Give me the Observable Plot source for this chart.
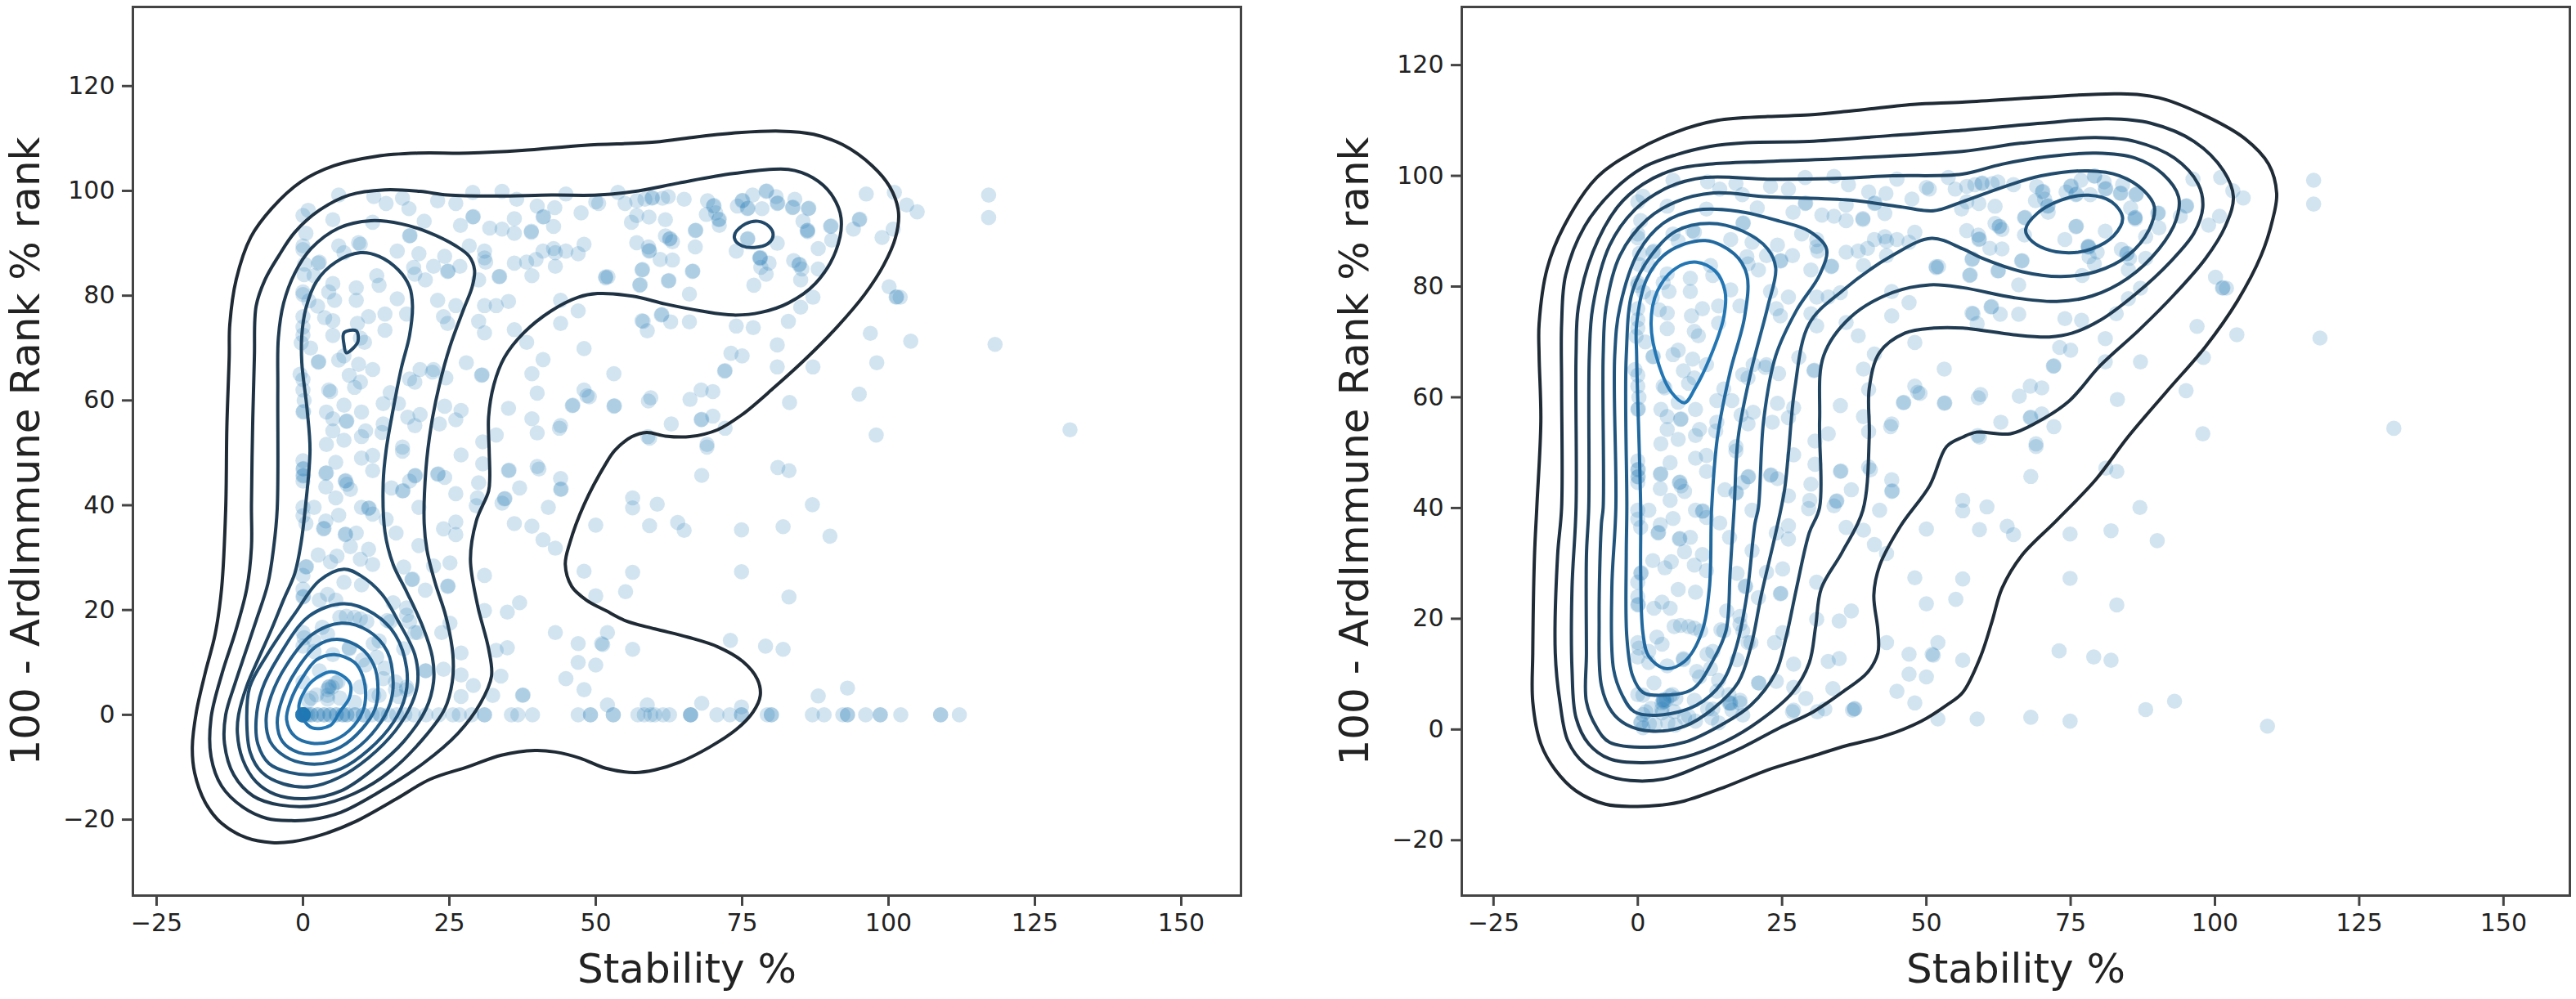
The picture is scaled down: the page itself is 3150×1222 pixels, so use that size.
<!DOCTYPE html>
<html>
<head>
<meta charset="utf-8">
<script src="https://cdn.jsdelivr.net/npm/d3@7"></script>
<script src="https://cdn.jsdelivr.net/npm/@observablehq/plot@0.6"></script>
<style>
html,body{margin:0;padding:0;background:#fff;}
#chart{display:flex;width:3150px;height:1222px;overflow:hidden;}
#chart svg{display:block;flex:none;}
</style>
</head>
<body>
<div id="chart"></div>
<script>
const xLabel = "Stability %";
const yLabel = "100 - ArdImmune Rank % rank";
const xTicks = [-25,0,25,50,75,100,125,150];
const yTicks = [-20,0,20,40,60,80,100,120];

// scattered points, shared by both panels: [stability, 100 - rank]
const upperPoints = [[6.1,99.2],[12.1,98.9],[14.2,97.6],[17,98.6],[18.1,96.6],[23,98.1],[26.1,97.6],[29,99.7],[34,99.9],[36.5,98.4],[40,97.1],[44.9,99.4],[43,96.8],[50,97.9],[47.5,95.8],[41,95],[41.1,95.1],[42.8,93.2],[39,92.1],[39,92.3],[36.1,94.7],[36.1,91.9],[34,92.7],[31.9,92.9],[29,95],[29.1,95.1],[26.9,93.4],[20.7,94.2],[18.2,91.4],[18.3,91.5],[5.1,94.5],[.9,96.3],[0,95.3],[.5,91.9],[0,89.5],[0,88.8],[2.8,86.4],[2.6,86.2],[1.9,83.8],[0,80.7],[0,80.2],[.2,84],[.3,86],[9.5,90.1],[9.8,89.8],[6.1,89.5],[7,88.2],[11.9,94],[16.1,88.5],[19.8,88],[18.9,85.4],[19.1,84.1],[20.9,83],[22.3,85.6],[24.2,87.5],[24.7,84.6],[24.8,84.7],[26.8,85.6],[28.4,89.5],[31,88.5],[31,87.2],[31.2,86.4],[30,83],[33.5,83.6],[33.6,83.7],[36.1,86.2],[38.2,86.4],[39.8,86.9],[41,88.5],[42.8,89],[43.1,88.2],[44.9,88.5],[47,88],[48,89.8],[43.1,85.6],[39.1,83.8],[51.7,83.6],
[5.4,79.1],[5.1,82.3],[4.4,80.7],[9.1,81.5],[9.1,79.1],[12.6,83.8],[13,82],[16.1,79.4],[23,79.1],[26.1,78.1],[31,78.1],[33,78.1],[35.1,78.9],[44,79.1],[47,77.1],[44,74.7],[30,75.1],[31,72.9],[36.1,73.5],[38.2,71.1],[48,69.9],[41,67.8],[39.1,65.1],[40,61.4],[48,62],[48.9,60.7],[46.1,59.1],[35.1,58.5],[39.1,56.5],[40,53.8],[44,55.2],[33,53.4],[30.7,52.1],
[14,76.5],[14,73.4],[11.2,76],[9.3,74.7],[5.1,75.2],[3.7,75.8],[5.1,72.4],[9.8,71.9],[10.5,71.1],[17.7,76.5],[24,76],[24.7,74.7],[6.1,67.7],[7,68.5],[2.6,67.3],[2.7,67.4],[11.9,65.9],[9.5,66.9],[7.9,64.8],[9.8,63.5],[8.8,62.5],[4.4,62],[4.7,61.7],[27.9,67.2],[30.5,64.8],[30.6,64.9],[20,65.9],[22.3,65.9],[22.1,65.4],[24.4,64.3],[19.1,63.5],[18.2,64.1],[14.9,61.5],[13.7,59.4],[16.3,59.4],[17.9,56.8],[20,57.3],[19.1,55.2],[24.2,58.9],[27,58.1],[26.1,56.3],[23.3,55.5],[10,57.8],[7,59.1],[4,57.8],[0,57.8],[.1,57.9],[5.1,56.5],[7.4,56],[7.5,56.1],[5.1,54.2],[10.7,54.2],[10,53.1],[13.7,55.5],[13.5,53.9],[7,52.4],[4,51.6],[17,51.1],[0,76],[0,74],[0,72.5],[-.3,71],[-.5,65],[0,64],[0,62],[.2,60],[1,79],[1.3,70],[2.5,78]];

const lowerPoints = [[17,50.3],[27,49.6],[10,49],[11.9,49.5],[5.6,48.2],[3.9,46.1],[4,46.2],[0,48.5],[0,46.9],[.1,47],[0,45.6],[.1,45.7],[0,44.6],[7.2,44.6],[7.3,44.7],[7.5,44],[3.9,43.5],[8.1,43],[5.6,41.4],[11.9,46.6],[19.1,45.6],[19.2,45.7],[18.2,44.6],[17,42.7],[17.1,42.8],[15.1,43.3],[23,45.9],[23.1,46],[24.2,45.3],[26.1,42.2],[19.8,39.6],[30,44.3],[29.8,41.4],[29.6,39.9],[30.7,47.9],[35.1,46.6],[35.2,46.7],[40,47.4],[37,43.3],[34.4,41.2],[34.5,41.3],[34,40.4],[44,45.1],[44,43],[44.1,43.1],[41.9,39.6],[36.1,36.5],[39.1,36],[41,33.4],[43.1,31.8],[50,36.2],[48,27.4],[50,22.7],[43.1,15.7],[47,13.6],[51.2,13.4],[47,10],[50,9.5],[44.9,6.9],[48,4.8],[31,26.6],[31,19.9],[34.9,19.6],[37,21.4],[33,12.3],[34.9,12.8],[27,11.8],[24,8.7],[33.8,7.4],[27,7.6],[29.1,5.6],[27,3.5],[32.4,3.7],[37.5,3.7],[37.6,3.8],[24,35.5],[26.1,36.8],[26.1,34.4],[19.8,32.3],[25.1,29],[22.3,28.4],[24.7,24.5],[24.8,24.6],[20.9,23.8],[18.6,25.8],[18.7,25.9],[17.2,28.2],[15.9,34.7],[14.2,37.3],[11.2,39.4],[11.3,39.5],[10,39.6],[11.9,38.3],[6.1,38.1],[3.5,35.5],[3.6,35.6],[3.9,37],[7.2,34.4],[7.3,34.5],[9.1,34.7],[8.1,32.1],[11.2,31.6],[11.9,28.7],[9.8,29.7],[5.8,30.3],[2.6,30.5],[4.7,29.2],[.5,28.2],[.6,28.3],[0,39.6],[0,38],[.5,36.5],[1.9,39.6],[0,26.6],[0,24],[0,22.5],[.1,22.6],[7,25.3],[4.2,23],[2.8,21.9],[5.6,21.9],[10,24.8],[15.4,21.4],[17.7,20.4],[25.1,17.5],[23.7,15.7],[19.1,15.7],[14.9,17.8],[17.2,12.6],[20.9,8.4],[7.4,18.8],[9.8,18.3],[3.3,16.7],[0,15.7],[0,13.1],[1.9,12.1],[5.1,11.5],[7.9,12.6],[10.2,10.5],[12,13.6],[2.8,8.4],[14,8.9],[15.8,6.3],[17.7,5.3],[4.4,5.3],[4.5,5.4],[5.6,6.1],[4.2,3.7],[0,6.3],[1.4,3.2],[9.8,5.3],[13,3.7],[16.3,3.5],[4.2,4.8],[5,5.3],[6,6.3],[6.3,18.6],[8.8,18.6],[10.9,17.8],[14.4,18],[17.7,19],[18.2,17.8],[19.6,15.7],[13,14.1],[7.9,12.8],[4.2,15.4],[1.9,14.1],[.2,14.7],[21,8.4],[12.6,11],[10.7,9.5],[13.7,6.9],[15.8,4.8],[12.1,3.7],[2.3,3.8],[.9,2.7],[4.2,3],[6.3,3.2],[8.8,2.4],[17.7,4.8]];

const rightPoints = [[50.5,97.6],[53.8,99.7],[55,97.6],[57,98.1],[58.4,98.4],[59.6,98.6],[59.7,98.7],[61.4,98.6],[62.4,98.9],[65.1,98.4],[69.1,98.1],[70.1,97.1],[70.2,97.2],[70.5,95.8],[71,94.5],[71.1,94.6],[71.1,93.4],[68.9,95.5],[56.1,94],[57,95.3],[59.1,95],[61.9,94.5],[67,92.4],[67.1,92.5],[61.9,91.4],[62.6,90.8],[62.7,90.9],[57,90.1],[59,89.3],[59.1,88.5],[59.2,88.6],[63.1,90.3],[67,89.3],[61,86.9],[63.1,86.8],[57.9,84.9],[58,85],[57.5,82],[57.6,82.1],[52.1,83.6],[62.4,82.8],[62.5,82.9],[66.5,84.6],[66.6,84.7],[66,80.3],[57.9,75.2],[58.8,73.3],[61.2,76.3],[61.3,76.4],[62.8,75],[66,75],[74,74.2],[76.9,73.9],[82.9,75.1],[85,77.8],[87.1,79.7],[81,70.6],[73.1,69],[75,68.5],[72,65.6],[72.1,65.7],[81,66.4],[87.1,66.4],[98,67.2],[96.9,72.8],[103.8,71.3],[100.1,81.7],[101.3,79.7],[101.4,79.8],[102,79.7],[98.9,91.1],[100.8,92.7],[96.2,99.4],[101,99.7],[103.1,97.3],[104.9,96],[95,94.5],[95.1,94.6],[94,92.7],[90.1,93.2],[90.2,93.3],[90.3,90.6],[88,89],[86.1,92.4],[86.2,92.5],[86.2,92.2],[85.4,94.2],[86.3,96.6],[86.4,96.7],[83.6,96.8],[83.7,96.9],[84,98.4],[81,97.6],[81.1,97.7],[80.8,98.9],[79.1,99.9],[79.2,100],[76.8,99.2],[75,98.1],[75.1,98.2],[74.2,97.1],[75.9,96.6],[76,96.7],[78.4,96.6],[75.9,90.8],[76,90.9],[81,90],[74,88.5],[78,87.2],[78.1,87.3],[78.1,87.1],[79.6,86.2],[78.2,85.4],[79.1,84.1],[77,82],[83.8,86.7],[84.7,85.9],[84.8,86],[85.2,85.1],[85,83],[88,85.1],[53.1,65.1],[53.1,58.9],[53.2,59],[59,59.9],[66.1,60.2],[68,62],[70,61.7],[62.9,55.5],[68,56.3],[68.1,56.4],[70,57],[72.1,54.7],[83.1,59.6],[95,61.2],[97.9,53.4],[58.9,53.1],[69,51.6],[117.1,99.2],[117.1,94.9],[118.2,70.7],[131,54.4],[69,51.1],[68.1,45.7],[81.1,47.2],[83,46.6],[87,40.1],[64,36.7],[65.1,35.2],[74.9,35.3],[82,35.9],[90,34.1],[60.5,40.2],[74.9,27.3],[83,22.5],[73,14.2],[79,13.1],[82,12.5],[88,3.6],[93,5.1],[68.1,2.2],[74.9,1.5],[56.3,39.5],[59.2,36.1],[56.3,27.2],[55.1,23.5],[52,15.7],[51,13.6],[56.3,12.5],[52,1.9],[58.8,1.9],[48.5,60.9],[46,59],[43.8,54.7],[40.3,46.9],[56.3,41.4],[59.4,60.5],[59.2,52.8],[58.1,75.1],[51.7,83.4]];

// the row on y = 0 in the first panel
const zeroRowX = [0,0,0,0,0,0,0,0,0,0,0,0,0,0,0,.4,.8,1.4,1.4,2.5,2.5,3.6,3.6,4.6,4.6,5.7,5.7,6.8,6.8,7.5,7.5,8.9,8.9,10.3,10.3,11.8,13.2,13.2,14.6,16,17.4,18.9,21,23.2,25.6,26.7,28.8,31,31,35.6,36.7,39.2,47,49.1,49.1,53,53,57.2,58.3,59.4,60.1,61.5,62.6,66.2,66.2,66.2,70.7,72.9,74.9,74.9,79.3,80,80,87,89,92.2,93,93,96.1,98.6,98.6,102.1,108.9,108.9,112.1];
// points only seen in the second panel
const secondExtras = [[109.1,.6],[.5,1.2],[.6,1.3],[.9,.3],[3,.9],[5.2,1.2],[8.1,2.1],[12.8,2.1],[16,4.7],[16.1,4.8],[18.2,2.6],[4.5,5],[4.6,5.1],[6.6,5.6],[.9,6.2],[26.8,3.2],[37.2,3.5],[31.1,3.2],[2,1],[6.5,.8],[10,1.5],[14,1.2]];

// contours of the first panel, outermost first: [stability, 100 - rank]
const a1 = [[-13.2,39.3],[-13,55],[-12.6,68.3],[-12.5,74.5],[-11.4,83.1],[-8.9,91.2],[-5.3,96.7],[-.4,101.7],[5.3,104.8],[12.5,106.6],[19.6,107.2],[28.2,107.2],[37.4,107.7],[48.1,108.7],[60.1,109.3],[67.2,110.3],[74.4,111.1],[81.5,111.4],[87.2,110.8],[92.2,108.8],[97.2,104.8],[100.2,100.8],[101.7,96],[101.2,91.1],[99.2,85.9],[95.9,80.2],[91.2,74],[86.1,68.2],[80.5,62.5],[75,57.3],[70.8,54.4],[66.1,53.1],[61.9,53.2],[58.7,53.9],[56.2,53.1],[53.3,50.5],[51.7,47.9],[48,40.1],[45.6,32.9],[44.8,28.7],[45.9,24.5],[48.4,21.9],[51.7,19.9],[55.2,17.9],[60.1,16.4],[65.8,14.8],[70.8,13],[75.1,10.2],[77.6,6.8],[78.1,3.7],[76.9,.6],[74,-2.8],[69.4,-6.2],[64.4,-9],[60.1,-10.5],[56.7,-11],[51.7,-10.2],[47.4,-8.3],[43.1,-7.1],[39.6,-6.8],[33.9,-7.7],[28.2,-9.9],[21.7,-12.3],[16,-16],[8.9,-20.4],[3.2,-22.9],[-1.8,-24.2],[-5.3,-24.4],[-9.6,-23.5],[-13.9,-20.7],[-16.7,-16.7],[-18.5,-11.1],[-18.9,-6.2],[-18.2,.6],[-16.7,8],[-15,15.4],[-13.9,24.1]];
const a2 = [[-8.8,40],[-8.6,55],[-8.3,68.3],[-8,78],[-6.5,83],[-4.2,87.5],[-1.4,92.1],[2.8,96.3],[7.9,99.2],[14,100.2],[20,99.9],[24.7,99.2],[33,99],[42.4,99.2],[50.3,99.2],[57.3,100],[64.2,101.5],[73.5,103.3],[82.9,104.1],[87.1,102.5],[90.2,99.4],[91.9,94.8],[91,88.5],[87.5,82.3],[82.9,78.6],[78.2,76.8],[73.5,76.3],[67.9,77.1],[61.9,78.4],[56.3,79.9],[50.3,80.4],[47,79.7],[42.4,77.1],[37.7,72.9],[34.4,68.2],[32.6,63],[31.7,56.8],[31.8,50.5],[31.9,45.3],[31.7,42.7],[29.6,37],[28.6,29.7],[29.8,21],[31.7,12.6],[32.2,7.4],[30.3,2.2],[26.5,-3.5],[20.5,-9.3],[12.6,-15],[6.5,-18.6],[1.5,-20],[-2,-20.2],[-6.1,-19.8],[-10.3,-17.6],[-13.9,-13.6],[-15.7,-8],[-15.7,-.6],[-13.8,8],[-11.5,16],[-9.6,24.1],[-8.8,32]];
const a3 = [[-4.4,39.3],[-4.3,62],[-4.2,72],[-3.3,78.6],[-1.4,84.3],[1.4,89],[6.1,92.9],[11.6,94.3],[16.8,93.7],[21.4,92.1],[26.1,89.5],[28.4,87.5],[29.3,84.9],[28.9,81.7],[27.5,77.6],[25.1,70.3],[23.3,63],[21.9,55.2],[21,46.9],[20.7,36.5],[21.2,31.3],[22.6,25.1],[24.4,18.8],[25.6,11.5],[25.5,6.3],[24.2,1.1],[20.5,-4.6],[14.9,-10.8],[8.8,-15],[2.3,-17.3],[-4,-17.2],[-8.5,-15.5],[-11.8,-11.5],[-13.4,-5.5],[-13.2,0],[-11.6,6],[-9.8,12],[-8,18],[-6,25],[-5,32]];
const a4 = [[.4,39.5],[1.2,50.5],[.7,58.3],[-.2,67.2],[-.2,72.4],[.5,77.6],[2.3,82.7],[5.6,86.4],[9.8,88.2],[13,87.5],[16.3,84.9],[18.2,81.7],[18.7,78.1],[18.2,72.4],[16.8,66.2],[15.4,58.3],[14.2,50.5],[13.7,44.3],[14,34.9],[15.4,28.7],[17.7,23.5],[20.5,16.7],[22.1,11],[22.3,6.3],[21,1.1],[17.2,-5.1],[12.1,-10.3],[6.5,-14.5],[.5,-16],[-4.7,-15.2],[-8,-12.8],[-10.3,-8.5],[-11.2,-3.5],[-11,0],[-9.6,5.5],[-7.5,11],[-5.5,16],[-3.3,22],[-1.4,27],[-.3,33]];
const a5 = [[7,27.8],[9.8,26.6],[13.5,23],[16.3,17.8],[19.1,11.5],[19.6,6.3],[18.6,2.2],[15.8,-3],[11.2,-8.2],[6.1,-12],[1.4,-13.7],[-3.3,-13.2],[-7,-11],[-9,-7.2],[-9.6,-.9],[-9.1,5.3],[-6.1,11.5],[-1.4,19.3],[2.8,25.6]];
const a6 = [[7,21.2],[12.1,19.3],[15.8,15.2],[17.7,8.9],[17.5,3.7],[15.4,-1.5],[11.2,-6.7],[6.5,-10.3],[1.9,-11.4],[-2.3,-11],[-5.8,-9.3],[-7.7,-5.6],[-8,-.9],[-7,4.8],[-4.2,11],[1,18.8]];
const a7 = [[6.5,17.5],[11.2,16],[14.4,12.1],[15.4,6.3],[14.9,2.2],[12.6,-2.5],[8.8,-6.7],[4.7,-9],[.5,-9.3],[-3,-8],[-5.6,-5.1],[-6.3,-.9],[-5.4,3.7],[-2.8,9.5],[1.4,15.2]];
const a8 = [[5.8,14.4],[9.8,12.8],[12.1,9.5],[12.8,5.3],[12.3,1.1],[10,-2.8],[6.5,-6.1],[2.8,-7.4],[-.7,-7.2],[-3.5,-5.1],[-4.4,-1.5],[-3.5,3.2],[-1.2,8.4],[2.3,13.1]];
const a9 = [[5.4,11.5],[8.8,10],[10.2,7.4],[10.7,3.7],[10.2,.6],[7.9,-3],[4.7,-5.1],[1.4,-5.4],[-1.4,-4.1],[-2.8,-.9],[-2.1,2.7],[-.2,6.9],[2.3,10.5]];
const a10 = [[4.9,8.2],[7.2,7.1],[8.1,5.8],[7.9,3.2],[6.3,.6],[4.7,-2],[1.6,-2.5],[-.2,-.4],[-.7,1.7],[.9,5.6],[2.8,7.4]];
const aPeakLeft = [[7,72.9],[9.1,73.3],[9.4,71.3],[8.6,70],[7.4,69.1],[7,70.7]];
const aPeakRight = [[73.8,91.9],[75.6,93.7],[77.7,94.2],[79.6,93.2],[80.3,91.6],[79.4,89.9],[77.1,89.2],[75,89.5],[73.8,90.6]];

// contours of the second panel, outermost first
const b1 = [[-17.5,40.1],[-16.8,55.8],[-17.1,67.5],[-17.1,73.3],[-15.7,83.3],[-12.8,90.9],[-7.1,99.7],[-.6,104.4],[6.6,107.9],[13.8,110],[22.5,110.7],[29.7,111],[36.9,111.7],[47.7,112.9],[56.2,113.3],[69.9,114.2],[83.5,114.8],[90.3,114.1],[98.4,110.8],[105.2,106.7],[109.3,102.1],[110.7,96.8],[110,92.1],[108,85.6],[103.9,77.4],[98.4,69.2],[91.6,61],[84.9,52.8],[79.4,45.2],[72.6,37.8],[66.5,31.4],[63.1,25.5],[61.4,19.6],[59.4,13.2],[56.3,6.7],[53.5,4.4],[49.1,1.5],[42.7,-1.2],[36.2,-2.9],[29.7,-5],[22.5,-7.3],[15.3,-10.3],[8.1,-12.9],[3.7,-13.7],[-.6,-13.9],[-5.6,-13.5],[-10.7,-11.1],[-14.3,-7.3],[-16.8,-2.6],[-18.2,5],[-18.2,13.8],[-17.9,31.4]];
const b2 = [[-13.2,40.1],[-13.2,61.6],[-13.2,73.3],[-12.5,82.1],[-9.2,90.9],[-4.2,97.4],[.9,101.5],[6.6,103.8],[12.4,105.3],[18.9,106],[29.7,106.2],[44.1,107.3],[56.2,108.2],[69.9,109.5],[81.5,110.3],[88.9,109.5],[96.4,106.2],[101.5,100.9],[103.2,96.2],[101.8,90.9],[98.4,85.1],[93,78.6],[86.9,72.2],[80.1,65.7],[74.7,59.3],[69.2,55.5],[64.5,53.4],[58.7,53.7],[56.3,52.8],[53.5,51.1],[50.6,44.1],[45.5,36.7],[41.9,29.6],[40.9,24.3],[41.6,17.9],[41.6,13.8],[39.8,10.3],[35.4,6.7],[30.4,3.2],[24.6,.3],[18.2,-3.2],[11.7,-6.2],[5.2,-8.8],[.1,-9.3],[-4.9,-8.5],[-9.2,-6.2],[-12.1,-2.1],[-13.5,5],[-14.3,13.8],[-13.9,31.4]];
const b3 = [[-10.7,40.1],[-10.7,67.5],[-10.3,76.3],[-7.8,86.2],[-3.5,94.4],[.9,98.5],[6.6,101.2],[12.4,102.1],[22.5,102.6],[36.9,103.2],[56.2,104.4],[66.5,105.9],[79.4,106.9],[86.2,106.2],[93,103.2],[97.1,98.5],[97.9,94.4],[96.4,89.7],[92.3,84.5],[86.2,78.6],[80.1,73.9],[75.3,71.6],[71.3,70.9],[65.1,71.3],[56.3,72.5],[51.3,72.5],[46.3,71.6],[41.9,68.1],[40.1,61.6],[40.1,52.8],[39,39.6],[35.4,32],[31.8,25.5],[30.8,18.5],[29.7,12],[26.8,6.7],[21,1.5],[15.3,-2.1],[8.1,-5],[.9,-6],[-4.9,-5.3],[-8.5,-2.6],[-10.7,2.1],[-11.4,10.9],[-11.4,25.5]];
const b4 = [[-8.5,40.1],[-8.4,67.5],[-7.8,76.3],[-4.9,87.4],[-.6,93.8],[5.2,97.9],[11.7,99.7],[22.5,99.4],[33.3,99.5],[44.1,100],[56.2,100.3],[63.1,102.1],[71.3,103.5],[79.4,104.1],[86.2,103.2],[91,100.3],[93.7,96.2],[93.3,92.1],[90.3,86.8],[84.9,81.5],[78.7,78.3],[72.6,77.3],[65.1,78],[56.3,79.8],[50.6,80.3],[44.1,78.9],[36.9,74.5],[32.2,67.5],[31.5,55.8],[31.5,40.1],[29.7,35.5],[27.5,25.5],[25.7,16.7],[23.9,10.3],[19.6,4.4],[14.6,.9],[8.1,-2.3],[1.6,-3.2],[-4.9,-2.3],[-7.1,.3],[-8.9,5],[-8.9,13.8],[-8.9,31.4]];
const b5 = [[-6,40.1],[-6,67.5],[-5.5,76.3],[-3.1,85.6],[1.6,92.1],[6.6,95.3],[13.1,96.9],[22.5,96.2],[36.9,95.6],[45.5,94.4],[51.3,93.7],[56.2,95.3],[63.1,97.9],[69.9,100],[78.1,100.9],[83.5,100],[87.6,97.4],[89.5,94.4],[88.6,90.3],[84.9,85.6],[79.4,82.7],[73.3,81.8],[66.5,82.7],[59.7,85.1],[56.3,86.8],[50.9,88.7],[44.1,85.6],[35.4,79.2],[29.7,73.3],[27.2,61.6],[26.1,49.9],[25.4,43.1],[23.9,35.5],[21.4,24.3],[19.6,15],[17.4,8.5],[13.1,3.8],[8.1,.6],[2.3,-.3],[-2,.9],[-4.5,3.2],[-6.3,7.9],[-6.7,19.6],[-6.3,37.2]];
const b6 = [[-3.8,40.1],[-4,67.5],[-3.1,76.3],[.1,86.2],[4.5,91.5],[10.2,93.8],[17.4,93.6],[24.6,91.8],[29.7,90],[32.7,86.8],[31.5,82.1],[27.5,75.7],[23.9,67.5],[21.8,55.8],[20.9,40.1],[20.3,37.2],[18.9,24.3],[17.1,15],[14.6,8.5],[10.2,4.4],[3.7,2.6],[-.6,3.2],[-2.7,6.2],[-4.2,10.9],[-4.5,25.5]];
const b6Right = [[67.2,90.3],[69.2,93.2],[73.3,95.6],[78.1,96.5],[82.1,95.3],[84,92.4],[82.5,89.2],[78.7,86.8],[74.7,86.1],[70.6,86.8],[67.9,88.6]];
const b7 = [[-1.9,40.1],[-2,67.5],[-.9,79.2],[2.3,85.6],[6.6,90],[12.4,91.4],[18.2,90],[22.5,86.8],[23.9,83.3],[22.5,76.3],[19.6,64.6],[17.4,52.8],[16.7,40.1],[16,28.4],[15.3,17.9],[13.1,12.6],[9.5,7.3],[4.5,6.2],[.9,6.7],[-.9,9.7],[-1.9,16.7],[-2,31.4]];
const b8 = [[.5,40.1],[-.2,67.5],[-.2,73.3],[1.6,81.5],[5.2,86.2],[11.7,88.3],[16.7,85.9],[18.9,82.1],[18.5,74.5],[16,64.6],[13.8,52.8],[12.8,40.1],[12.4,25.5],[11,17.3],[8.1,12.3],[4.8,11],[1.9,13.2],[.9,17.3],[.5,28.4]];
const b9 = [[2.3,73.3],[3.4,79.2],[6.6,83.3],[10.2,84.4],[13.5,82.7],[15.1,79.2],[14.9,74.5],[12.4,66.9],[9.9,61.6],[8.1,59],[5.9,60.8],[3.7,65.7]];

const commonPoints = [...upperPoints, ...lowerPoints, ...rightPoints];
const firstPoints = [...commonPoints, ...zeroRowX.map(x => [x, 0])];
const secondPoints = [...commonPoints, ...secondExtras];

const contourRows = (groups) => groups.flatMap(([ring, level], i) =>
  ring.map(([x, y]) => ({x, y, ring: i, level})));
const firstContours = contourRows([[a1,1],[a2,2],[a3,3],[a4,4],[aPeakLeft,4.6],[aPeakRight,4.6],[a5,5],[a6,6],[a7,7],[a8,8],[a9,9],[a10,10]]);
const secondContours = contourRows([[b1,1],[b2,2],[b3,3],[b4,4],[b5,5],[b6,6],[b6Right,6],[b7,7],[b8,8.5],[b9,10]]);

function panel({points, contours, xDomain, yDomain, marginLeft, marginRight, labelOffset}) {
  return Plot.plot({
    width: 1575, height: 1222,
    marginLeft, marginRight, marginTop: 8, marginBottom: 127,
    style: {fontFamily: "'DejaVu Sans'", color: "#222", background: "#fff", overflow: "visible"},
    x: {domain: xDomain, label: null},
    y: {domain: yDomain, label: null},
    color: {type: "linear", domain: [1, 10], range: ["#1f2a35", "#2376b4"], legend: false},
    marks: [
      Plot.dot(points, {x: d => d[0], y: d => d[1], r: 9.3, fill: "#1f77b4", fillOpacity: 0.2, stroke: "none"}),
      Plot.line(contours, {x: "x", y: "y", z: "ring", stroke: "level", strokeWidth: 4, curve: "catmull-rom-closed"}),
      Plot.frame({stroke: "#444", strokeWidth: 3}),
      Plot.axisX({ticks: xTicks, anchor: "bottom", tickSize: 13, tickPadding: 9, fontSize: 30, strokeWidth: 3, stroke: "#444", tickFormat: d3.format("d"), label: null}),
      Plot.axisY({ticks: yTicks, anchor: "left", tickSize: 13, tickPadding: 9, fontSize: 30, strokeWidth: 3, stroke: "#444", tickFormat: d3.format("d"), label: null}),
      Plot.axisX({ticks: [], anchor: "bottom", tickSize: 0, fontSize: 50, label: xLabel, labelAnchor: "center", labelArrow: "none", labelOffset: 106}),
      Plot.axisY({ticks: [], anchor: "left", tickSize: 0, fontSize: 50, label: yLabel, labelAnchor: "center", labelArrow: "none", labelOffset})
    ]
  });
}

const root = document.getElementById("chart");
root.append(panel({points: firstPoints, contours: firstContours, xDomain: [-29.05, 160.2], yDomain: [-34.5, 135.1], marginLeft: 162, marginRight: 58, labelOffset: 150}));
root.append(panel({points: secondPoints, contours: secondContours, xDomain: [-30.5, 161.5], yDomain: [-30, 130.5], marginLeft: 212, marginRight: 8, labelOffset: 150}));
</script>
</body>
</html>
